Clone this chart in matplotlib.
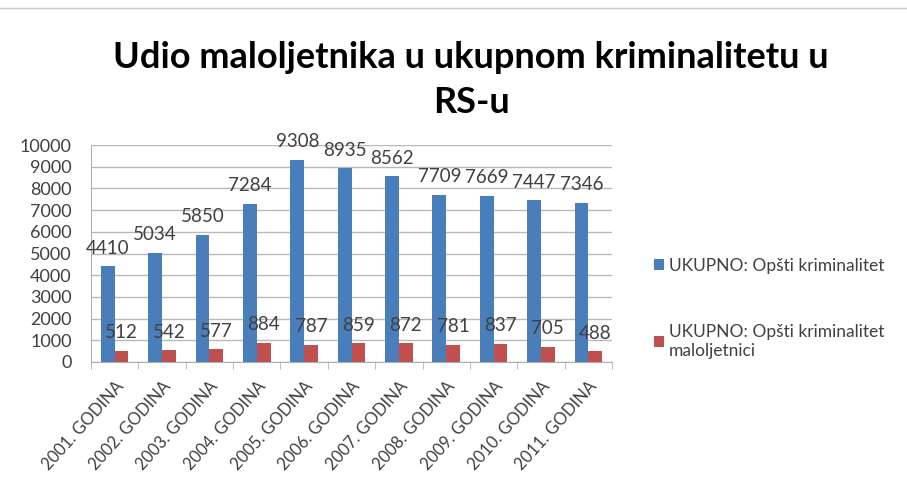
import matplotlib
matplotlib.use("Agg")
import matplotlib.pyplot as plt
import numpy as np
from matplotlib.lines import Line2D

categories = ["2001. GODINA", "2002. GODINA", "2003. GODINA", "2004. GODINA", "2005. GODINA",
              "2006. GODINA", "2007. GODINA", "2008. GODINA", "2009. GODINA", "2010. GODINA",
              "2011. GODINA"]
ukupno = [4410, 5034, 5850, 7284, 9308, 8935, 8562, 7709, 7669, 7447, 7346]
maloljetnici = [512, 542, 577, 884, 787, 859, 872, 781, 837, 705, 488]
series_names = ["UKUPNO: Opšti kriminalitet", "UKUPNO: Opšti kriminalitet\nmaloljetnici"]
yticks = list(range(0, 10001, 1000))

plt.rcParams['font.family'] = ['Lato', 'DejaVu Sans']

fig = plt.figure(figsize=(9.07, 4.9), dpi=100)
ax = fig.add_axes([91/907, 1-362/490, (612-91)/907, (362-145)/490])

blue = "#4a7ebb"
red = "#c0504d"
x = np.arange(len(categories))
w = 0.29
b1 = ax.bar(x - w/2, ukupno, w, color=blue, label=series_names[0], zorder=3)
b2 = ax.bar(x + w/2, maloljetnici, w, color=red, label=series_names[1], zorder=3)

for bars, vals in ((b1, ukupno), (b2, maloljetnici)):
    for r, v in zip(bars, vals):
        ax.annotate(str(v), (r.get_x() + r.get_width()/2, v), xytext=(0, 13),
                    textcoords="offset points", ha="center", va="center",
                    fontsize=13.5, color="#404040", zorder=5)

ax.set_xlim(-0.5, len(categories) - 0.5)
ax.set_ylim(0, 10000)
ax.set_yticks(yticks)
ax.set_yticklabels([str(t) for t in yticks], fontsize=13, color="#404040")
ax.yaxis.grid(True, color="#b8b8b8", linewidth=1, zorder=0)
ax.tick_params(axis="y", length=0, pad=14)
ax.set_xticks(x)
ax.set_xticklabels(categories, rotation=48, ha="right", rotation_mode="anchor",
                   fontsize=12, color="#404040")
ax.tick_params(axis="x", length=0, pad=12)
ax.set_xticks(np.arange(-0.5, len(categories)), minor=True)
ax.tick_params(axis="x", which="minor", length=5, color="#b0b0b0")
for s in ["top", "right"]:
    ax.spines[s].set_visible(False)
ax.spines["left"].set_color("#b0b0b0")
ax.spines["bottom"].set_color("#b0b0b0")

fig.text(471/907, 1-57/490, "Udio maloljetnika u ukupnom kriminalitetu u",
         ha="center", va="center", fontsize=26, fontweight="bold", color="#000000")
fig.text(471/907, 1-102/490, "RS-u",
         ha="center", va="center", fontsize=26, fontweight="bold", color="#000000")

leg = fig.legend(handles=[b1, b2], labels=series_names, loc="upper left",
                 bbox_to_anchor=(638/907, 1-242/490), frameon=False, fontsize=12.5,
                 handlelength=0.6, handleheight=0.6, handletextpad=0.3,
                 labelspacing=2.9, labelcolor="#404040")

fig.add_artist(Line2D([0, 1], [1-8/490, 1-8/490], color="#c8c8c8", linewidth=1))

fig.savefig("out.png", dpi=100)
